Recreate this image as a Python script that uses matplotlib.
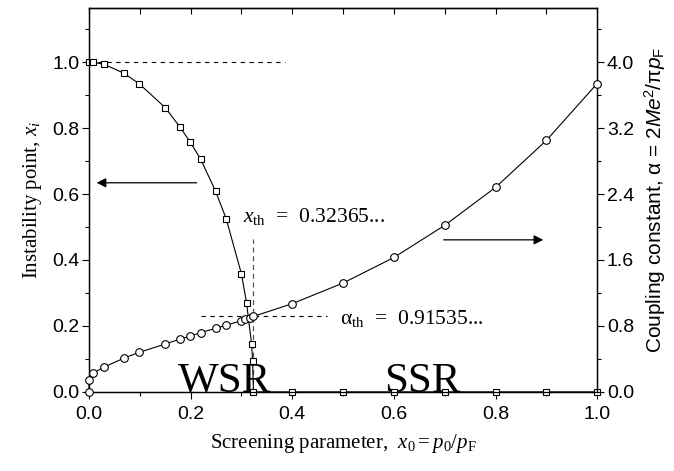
import matplotlib
matplotlib.use("Agg")
import matplotlib.pyplot as plt
from matplotlib.ticker import MultipleLocator

plt.rcParams['mathtext.fontset'] = 'custom'
plt.rcParams['mathtext.rm'] = 'Liberation Serif'
plt.rcParams['mathtext.it'] = 'Liberation Serif:italic'
plt.rcParams['mathtext.sf'] = 'Liberation Sans:italic'
plt.rcParams['mathtext.bf'] = 'Liberation Sans'

# Instability point x_i vs screening parameter x0 (left axis)
xi_x0 = [0.0, 0.0085, 0.029, 0.069, 0.099, 0.150, 0.179, 0.199, 0.220, 0.249,
         0.270, 0.300, 0.310, 0.320, 0.322, 0.32365, 0.4, 0.5, 0.6, 0.7, 0.8, 0.9, 1.0]
xi_vals = [1.0, 0.999, 0.994, 0.966, 0.934, 0.862, 0.803, 0.758, 0.705, 0.609,
           0.525, 0.358, 0.271, 0.145, 0.094, 0.0, 0.0, 0.0, 0.0, 0.0, 0.0, 0.0, 0.0]

# Coupling constant alpha vs x0 (right axis)
al_x0 = [0.0, 0.0, 0.0085, 0.0295, 0.069, 0.099, 0.150, 0.179, 0.199, 0.220, 0.249,
         0.270, 0.299, 0.308, 0.317, 0.32365, 0.4, 0.5, 0.6, 0.7, 0.8, 0.9, 1.0]
al_vals = [0.0, 0.145, 0.23, 0.30, 0.41, 0.48, 0.58, 0.64, 0.675, 0.72, 0.77,
           0.81, 0.86, 0.885, 0.90, 0.91535, 1.07, 1.32, 1.63, 2.02, 2.48, 3.05, 3.74]

x_th = 0.32365
alpha_th = 0.91535

serif = 'Liberation Serif'
sans = 'Liberation Sans'

fig = plt.figure(figsize=(6.74, 4.71), dpi=100)
ax = fig.add_axes([0.132, 0.168, 0.754, 0.815])
ax2 = ax.twinx()

ax.set_xlim(0, 1.0)
ax.set_ylim(0, 1.164)
ax2.set_ylim(0, 4.656)

ax.plot(xi_x0, xi_vals, '-', color='black', lw=0.8, marker='s', ms=4,
        mfc='white', mec='black', mew=0.8, clip_on=False, zorder=5)
ax2.plot(al_x0, al_vals, '-', color='black', lw=0.8, marker='o', ms=5.5,
         mfc='white', mec='black', mew=0.8, clip_on=False, zorder=5)

# dashed guide lines
ax.plot([0, 0.385], [1.0, 1.0], '--', color='black', lw=0.8, dashes=(4, 4))
ax2.plot([0.22, 0.468], [alpha_th, alpha_th], '--', color='black', lw=0.8, dashes=(4, 4))
ax.plot([x_th, x_th], [0, 0.465], '--', color='#555555', lw=0.9, dashes=(4, 3))

# arrows
ax.annotate('', xy=(0.015, 0.634), xytext=(0.212, 0.634),
            arrowprops=dict(arrowstyle='-|>', color='black', lw=0.9,
                            mutation_scale=14, shrinkA=0, shrinkB=0))
ax.annotate('', xy=(0.894, 0.461), xytext=(0.698, 0.461),
            arrowprops=dict(arrowstyle='-|>', color='black', lw=0.9,
                            mutation_scale=14, shrinkA=0, shrinkB=0))

# annotations
ax.text(0.303, 0.516, r'$x_{\rm th}$  =  0.32365...', fontsize=15.5, family=serif, va='baseline')
ax.text(0.494, 0.206, r'α$_{\rm th}$  =  0.91535...', fontsize=15.5, family=serif, va='baseline')
ax.text(0.175, 0.0, 'WSR', fontsize=31, family=serif, va='baseline')
ax.text(0.58, 0.0, 'SSR', fontsize=31, family=serif, va='baseline')

# ticks
ax.xaxis.set_major_locator(MultipleLocator(0.2))
ax.xaxis.set_minor_locator(MultipleLocator(0.1))
ax.yaxis.set_major_locator(MultipleLocator(0.2))
ax.yaxis.set_minor_locator(MultipleLocator(0.1))
ax2.yaxis.set_major_locator(MultipleLocator(0.8))
ax2.yaxis.set_minor_locator(MultipleLocator(0.4))

ax.tick_params(axis='x', which='major', length=5, width=0.8, direction='out')
ax.tick_params(axis='x', which='minor', length=3, width=0.8, direction='out')
ax.tick_params(axis='y', which='major', length=5, width=0.8, direction='out')
ax.tick_params(axis='y', which='minor', length=3, width=0.8, direction='out')
ax2.tick_params(axis='y', which='major', length=5, width=0.8, direction='out')
ax2.tick_params(axis='y', which='minor', length=3, width=0.8, direction='out')

# top axis ticks pointing inward
top = ax.secondary_xaxis('top')
top.xaxis.set_major_locator(MultipleLocator(0.1))
top.tick_params(axis='x', which='major', direction='in', length=4, width=0.8, labeltop=False)
top.spines['top'].set_linewidth(0.9)

ax.set_xticks([0.0, 0.2, 0.4, 0.6, 0.8, 1.0])
ax.set_xticklabels(['0.0', '0.2', '0.4', '0.6', '0.8', '1.0'])
ax.set_yticks([0.0, 0.2, 0.4, 0.6, 0.8, 1.0])
ax.set_yticklabels(['0.0', '0.2', '0.4', '0.6', '0.8', '1.0'])
ax2.set_yticks([0.0, 0.8, 1.6, 2.4, 3.2, 4.0])
ax2.set_yticklabels(['0.0', '0.8', '1.6', '2.4', '3.2', '4.0'])

for lab in ax.get_xticklabels() + ax.get_yticklabels() + ax2.get_yticklabels():
    lab.set_fontfamily(sans)
    lab.set_fontsize(14)
ax.tick_params(axis='x', which='major', pad=5)
ax.tick_params(axis='y', which='major', pad=2)
ax2.tick_params(axis='y', which='major', pad=2)

ax.set_xlabel(r'Screening parameter,  $x_0 = p_0/p_{\rm F}$', fontsize=15, family=serif, labelpad=7)
ax.set_ylabel(r'Instability point, $x_i$', fontsize=15, family=serif, labelpad=6)
ax2.set_ylabel(r'Coupling constant, α = 2$\mathsf{Me}^{\mathbf{2}}$/π$\mathsf{p}_{\mathbf{F}}$',
               fontsize=15, family=sans, labelpad=6)

for a in (ax, ax2):
    for s in a.spines.values():
        s.set_linewidth(0.9)

fig.savefig('out.png', dpi=100)
